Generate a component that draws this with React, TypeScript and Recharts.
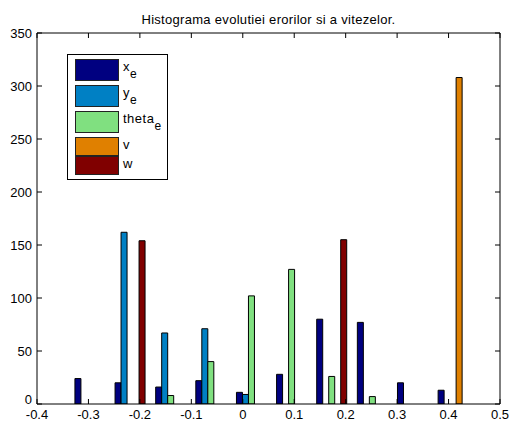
import { Bar, BarChart, Legend, XAxis, YAxis } from "recharts";

// bin centres shared by all five histograms
const centers = [-0.297, -0.219, -0.14, -0.062, 0.017, 0.095, 0.173, 0.252, 0.33, 0.409];
const xE = [24, 20, 16, 22, 11, 28, 80, 77, 20, 13];
const yE = [0, 162, 67, 71, 9, 0, 0, 0, 0, 0];
const thetaE = [0, 0, 8, 40, 102, 127, 26, 7, 0, 0];
const vVals = [0, 0, 0, 0, 0, 0, 0, 0, 0, 308];
const wVals = [0, 154, 0, 0, 0, 0, 155, 0, 0, 0];

const xTicks = [-0.4, -0.3, -0.2, -0.1, 0, 0.1, 0.2, 0.3, 0.4, 0.5];
const yTicks = [0, 50, 100, 150, 200, 250, 300, 350];

const series = [
  { key: "xe", name: "x", sub: "e", color: "#000080" },
  { key: "ye", name: "y", sub: "e", color: "#0080c4" },
  { key: "thetae", name: "theta", sub: "e", color: "#80e080" },
  { key: "v", name: "v", sub: "", color: "#e08000" },
  { key: "w", name: "w", sub: "", color: "#800000" },
];

const data = centers.map((x, i) => ({
  x,
  xe: xE[i],
  ye: yE[i],
  thetae: thetaE[i],
  v: vVals[i],
  w: wVals[i],
}));

const FONT = "'Liberation Sans', Arial, sans-serif";
const fmt = (v: number) => String(Math.round(v * 10) / 10);

function BottomTick({ x, y, payload }: any) {
  return (
    <g>
      <line x1={x} x2={x} y1={y} y2={y - 5} stroke="#000" />
      <text x={x} y={y} dy={15} textAnchor="middle" fontSize={13} fontFamily={FONT} fill="#000">
        {fmt(payload.value)}
      </text>
    </g>
  );
}

function TopTick({ x, y }: any) {
  return <line x1={x} x2={x} y1={y} y2={y + 5} stroke="#000" />;
}

function LeftTick({ x, y, payload }: any) {
  // matlab lifts the "0" label so it clears the x labels
  const dy = payload.value === 0 ? 0 : 5;
  return (
    <g>
      <line x1={x} x2={x + 5} y1={y} y2={y} stroke="#000" />
      <text x={x - 5} y={y} dy={dy} textAnchor="end" fontSize={13} fontFamily={FONT} fill="#000">
        {payload.value}
      </text>
    </g>
  );
}

function RightTick({ x, y }: any) {
  return <line x1={x} x2={x - 5} y1={y} y2={y} stroke="#000" />;
}

function LegendBox() {
  return (
    <div
      style={{
        boxSizing: "border-box",
        width: 101,
        height: 126,
        border: "1px solid #000",
        background: "#fff",
        paddingTop: 4,
        paddingLeft: 7,
        fontFamily: FONT,
        fontSize: 13,
        color: "#000",
      }}
    >
      {series.map((s) => (
        <div key={s.key} style={{ position: "relative", height: s.sub ? 26 : 19 }}>
          <div
            style={{
              position: "absolute",
              left: 0,
              top: 0,
              boxSizing: "border-box",
              width: 44,
              height: s.sub ? 22 : 19,
              background: s.color,
              border: "1px solid #222",
            }}
          />
          <div
            style={{
              position: "absolute",
              left: 48,
              top: 1,
              lineHeight: "13px",
              whiteSpace: "nowrap",
              letterSpacing: 0.5,
            }}
          >
            {s.name}
            {s.sub && (
              <span style={{ position: "relative", top: 7, fontSize: 12 }}>{s.sub}</span>
            )}
          </div>
        </div>
      ))}
    </div>
  );
}

export default function App() {
  return (
    <div style={{ position: "absolute", left: 0, top: 0, width: 509, height: 426, background: "#fff" }}>
      <div
        style={{
          position: "absolute",
          left: 0,
          top: 13,
          width: 537,
          textAlign: "center",
          fontFamily: FONT,
          fontSize: 13,
          lineHeight: "13px",
          letterSpacing: 0.3,
          color: "#000",
        }}
      >
        Histograma evolutiei erorilor si a vitezelor.
      </div>
      <BarChart
        width={509}
        height={426}
        data={data}
        margin={{ top: 32, right: 8, bottom: 21, left: 36 }}
        barGap={0}
      >
        <XAxis
          type="number"
          dataKey="x"
          domain={[-0.4, 0.5]}
          ticks={xTicks}
          interval={0}
          allowDataOverflow
          height={1}
          tickSize={0}
          tickMargin={0}
          tickLine={false}
          axisLine={{ stroke: "#000" }}
          tick={<BottomTick />}
        />
        <XAxis
          xAxisId="top"
          orientation="top"
          type="number"
          dataKey="x"
          domain={[-0.4, 0.5]}
          ticks={xTicks}
          interval={0}
          allowDataOverflow
          height={1}
          tickSize={0}
          tickMargin={0}
          tickLine={false}
          axisLine={{ stroke: "#000" }}
          tick={<TopTick />}
        />
        <YAxis
          type="number"
          domain={[0, 350]}
          ticks={yTicks}
          interval={0}
          allowDataOverflow
          width={1}
          tickSize={0}
          tickMargin={0}
          tickLine={false}
          axisLine={{ stroke: "#000" }}
          tick={<LeftTick />}
        />
        <YAxis
          yAxisId="right"
          orientation="right"
          type="number"
          domain={[0, 350]}
          ticks={yTicks}
          interval={0}
          allowDataOverflow
          width={1}
          tickSize={0}
          tickMargin={0}
          tickLine={false}
          axisLine={{ stroke: "#000" }}
          tick={<RightTick />}
        />
        <Legend
          layout="vertical"
          align="center"
          verticalAlign="middle"
          content={() => <LegendBox />}
          wrapperStyle={{ left: 67, top: 54, width: 101, height: 126 }}
        />
        {series.map((s) => (
          <Bar
            key={s.key}
            dataKey={s.key}
            name={s.name}
            fill={s.color}
            stroke="#000"
            strokeWidth={1}
            barSize={6}
            isAnimationActive={false}
          />
        ))}
      </BarChart>
    </div>
  );
}
